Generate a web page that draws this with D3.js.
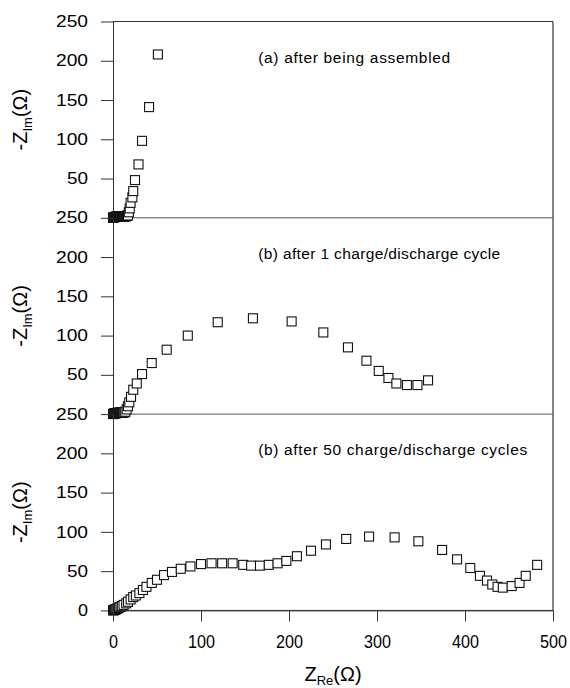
<!DOCTYPE html>
<html>
<head>
<meta charset="utf-8">
<script src="https://cdn.jsdelivr.net/npm/d3@7"></script>
<style>
  html, body { margin: 0; padding: 0; background: #fff; }
  svg { display: block; }
  text { font-family: "Liberation Sans", Arial, Helvetica, sans-serif; fill: #000; }
</style>
</head>
<body>
<svg id="chart" width="570" height="688"></svg>
<script>
// ---------- data ----------
const xTicks = [0, 100, 200, 300, 400, 500];
const yTicks = [0, 50, 100, 150, 200, 250];
const panelLabels = [
  "(a) after being assembled",
  "(b) after 1 charge/discharge cycle",
  "(b) after 50 charge/discharge cycles"
];

// panel (a): after being assembled
const aRe = [0, 0.5, 1, 1.5, 2, 2.5, 3, 3.5, 4, 4.5, 5, 5.5, 6, 6.5, 7, 7.5, 8, 8.5, 9, 9.5, 10, 10.5, 11, 11.5, 12, 12.5, 13, 13.5, 14, 14.5, 15, 15.5, 16, 17, 18, 19, 20, 22, 23, 25, 29, 33, 41, 51];
const aIm = [0, 0.3, 0.6, 0.8, 1, 1.1, 1.2, 1.3, 1.4, 1.5, 1.5, 1.5, 1.6, 1.6, 1.6, 1.6, 1.6, 1.6, 1.6, 1.6, 1.6, 1.7, 1.7, 1.7, 1.8, 1.8, 1.9, 1.9, 2, 2.1, 2.2, 2.4, 2.6, 3, 7, 12, 19, 26, 34, 48, 68, 98, 141, 208];

// panel (b): after 1 charge/discharge cycle
const bRe = [0, 0.5, 1, 1.5, 2, 2.5, 3, 3.5, 4, 4.5, 5, 5.5, 6, 6.5, 7, 7.5, 8, 8.5, 9, 9.5, 10, 10.5, 11, 11.5, 12, 13, 14, 15.5, 17, 18.5, 20.5, 23, 27, 33, 44, 61, 85, 119, 159, 203, 239, 267, 288, 302, 313, 322, 334, 346, 358];
const bIm = [0, 0.3, 0.6, 0.8, 1, 1.1, 1.2, 1.3, 1.4, 1.5, 1.5, 1.5, 1.6, 1.6, 1.6, 1.6, 1.6, 1.6, 1.7, 1.7, 1.7, 1.8, 1.8, 1.9, 2, 2.3, 3, 6, 10, 15, 22, 31, 39, 51, 65, 82, 100, 117, 122, 118, 104, 85, 68, 55, 46, 39, 37, 37, 43];

// panel (c): after 50 charge/discharge cycles
const cRe = [0, 0.5, 1, 1.5, 2, 2.5, 3, 4, 5, 6, 7, 8.5, 10, 12, 15, 17, 20, 23, 26, 30, 34, 38, 44, 50, 58, 67, 77, 88, 100, 112, 124, 136, 148, 157, 167, 177, 187, 197, 209, 225, 242, 265, 291, 320, 347, 374, 391, 406, 417, 425, 431, 437, 443, 453, 462, 469, 482];
const cIm = [0, 0.2, 0.4, 0.6, 0.8, 1, 1.2, 1.8, 2.5, 3, 3.8, 4.5, 5.5, 7, 9, 11, 14, 17, 19, 22, 26, 30, 35, 39, 45, 49, 53, 56, 59, 60, 60, 60, 58, 57, 57, 58, 60, 63, 69, 76, 84, 91, 94, 93, 88, 77, 65, 54, 44, 38, 33, 30, 29, 31, 35, 44, 58];

const panels = [
  { label: panelLabels[0], re: aRe, im: aIm },
  { label: panelLabels[1], re: bRe, im: bIm },
  { label: panelLabels[2], re: cRe, im: cIm }
];

// ---------- layout ----------
const mLeft = 113, mRight = 553, mTop = 21.5, panelH = 196.3;
const mBottom = mTop + 3 * panelH;
const lineColor = "#333";
const labelStartX = 165; // annotation left edge in data units
const labelWidths = [192, 242, 269];

const svg = d3.select("#chart");
const x = d3.scaleLinear().domain([0, 500]).range([mLeft, mRight]);

// frame: top and right
svg.append("line").attr("x1", mLeft).attr("x2", mRight).attr("y1", mTop).attr("y2", mTop)
  .attr("stroke", lineColor).attr("stroke-width", 1);
svg.append("line").attr("x1", mRight).attr("x2", mRight).attr("y1", mTop).attr("y2", mBottom)
  .attr("stroke", lineColor).attr("stroke-width", 1.2);

panels.forEach((p, i) => {
  const y0 = mTop + (i + 1) * panelH;
  const y = d3.scaleLinear().domain([0, 250]).range([y0, y0 - panelH]);
  const g = svg.append("g");

  // separator / baseline for each panel
  g.append("line").attr("x1", mLeft).attr("x2", mRight).attr("y1", y(0)).attr("y2", y(0))
    .attr("stroke", i < 2 ? "#555" : lineColor).attr("stroke-width", 1);

  // y axis
  const tv = i === 2 ? yTicks : yTicks.filter(d => d > 0);
  const ax = g.append("g").attr("transform", `translate(${mLeft},0)`)
    .call(d3.axisLeft(y).tickValues(tv).tickSize(12).tickSizeOuter(0).tickPadding(13));
  ax.select(".domain").attr("stroke", lineColor);
  ax.selectAll(".tick line").attr("stroke", lineColor);
  ax.selectAll(".tick text")
    .style("font-size", "16px")
    .attr("fill", "#000")
    .attr("textLength", d => String(d).length * 11 - 1)
    .attr("lengthAdjust", "spacingAndGlyphs");

  // y axis title
  const cy = (y(0) + y(250)) / 2;
  const t = g.append("text")
    .attr("transform", `translate(27,${cy}) rotate(-90)`)
    .attr("text-anchor", "middle")
    .style("font-size", "20px");
  t.append("tspan").text("-Z");
  t.append("tspan").attr("dy", 5).style("font-size", "13px").text("Im");
  t.append("tspan").attr("dy", -5).text("(\u03A9)");

  // annotation
  g.append("text")
    .attr("x", x(labelStartX))
    .attr("y", y(250) + 41)
    .style("font-size", "15.5px")
    .attr("textLength", labelWidths[i])
    .attr("lengthAdjust", "spacing")
    .text(p.label);

  // markers
  const pts = p.re.map((r, k) => [r, p.im[k]]);
  g.append("g").selectAll("rect").data(pts).join("rect")
    .attr("x", d => x(d[0]) - 4.5)
    .attr("y", d => y(d[1]) - 4.5)
    .attr("width", 9).attr("height", 9)
    .attr("fill", "#fff")
    .attr("stroke", "#111")
    .attr("stroke-width", 1.1);
});

// x axis
const xa = svg.append("g").attr("transform", `translate(0,${mBottom})`)
  .call(d3.axisBottom(x).tickValues(xTicks).tickSize(11).tickSizeOuter(0).tickPadding(14));
xa.select(".domain").attr("stroke", lineColor);
xa.selectAll(".tick line").attr("stroke", lineColor);
xa.selectAll(".tick text")
  .style("font-size", "18px")
  .attr("fill", "#000")
  .attr("textLength", d => String(d).length * 9)
  .attr("lengthAdjust", "spacingAndGlyphs");

// x axis title
const xt = svg.append("text")
  .attr("x", (mLeft + mRight) / 2)
  .attr("y", 681)
  .attr("text-anchor", "middle")
  .style("font-size", "20px");
xt.append("tspan").text("Z");
xt.append("tspan").attr("dy", 4).style("font-size", "13px").text("Re");
xt.append("tspan").attr("dy", -4).text("(\u03A9)");
</script>
</body>
</html>
